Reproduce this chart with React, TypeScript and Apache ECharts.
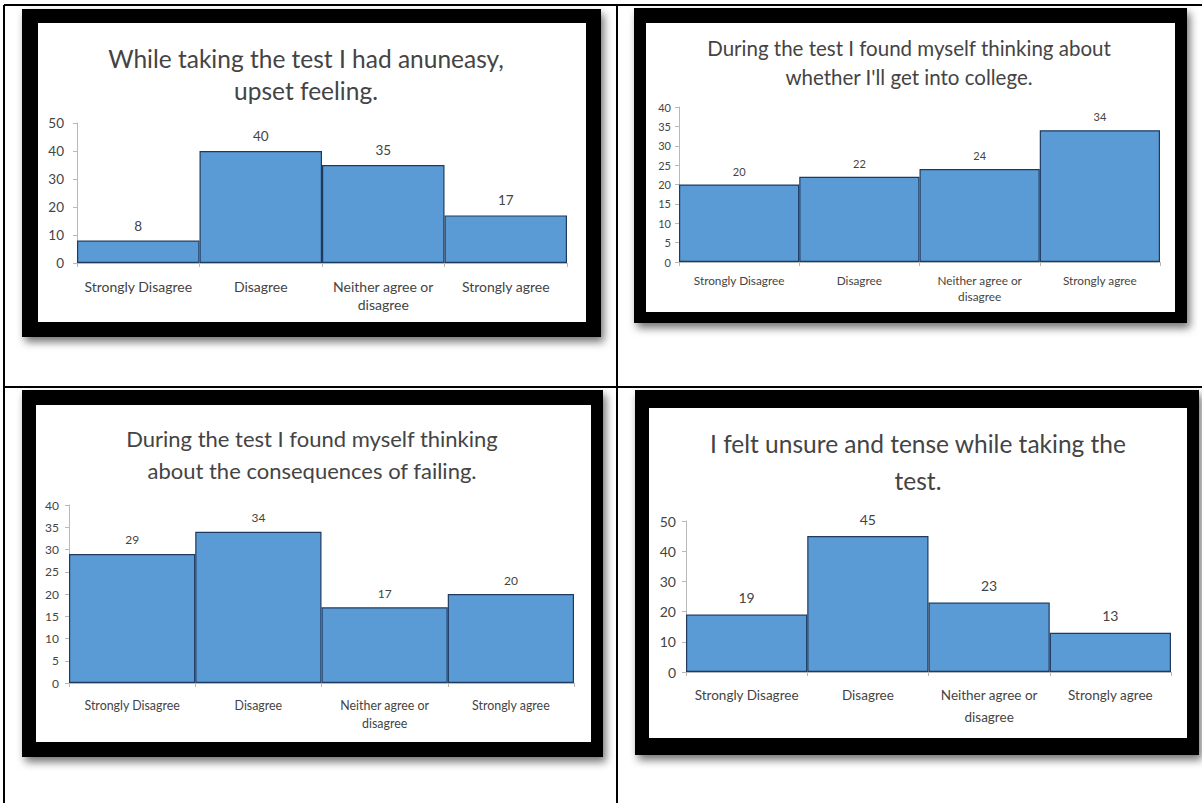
import React, { useEffect, useRef } from "react";
import * as echarts from "echarts";

const categories = ["Strongly Disagree", "Disagree", "Neither agree or\ndisagree", "Strongly agree"];
const uneasyValues = [8, 40, 35, 17];
const collegeValues = [20, 22, 24, 34];
const failingValues = [29, 34, 17, 20];
const tenseValues = [19, 45, 23, 13];
const titleTexts = [
  "While taking the test I had anuneasy,\nupset feeling.",
  "During the test I found myself thinking about\nwhether I'll get into college.",
  "During the test I found myself thinking\nabout the consequences of failing.",
  "I felt unsure and tense while taking the\ntest.",
];
const yMax = [50, 40, 40, 50];
const yStep = [10, 5, 5, 10];
const seriesValues = [uneasyValues, collegeValues, failingValues, tenseValues];

// layout of each panel (pixels)
const panels = [
  { frame: [22, 9, 601, 337], inner: [38, 23, 586, 322], grid: [77, 123, 490, 140], title: [306, 42, 24.5, 32], yFont: 13.5, yMargin: 13, xFont: 14, xLine: 18, xMargin: 14, dFont: 13.5, dDist: 8 },
  { frame: [634, 8, 1187, 323], inner: [646, 23, 1175, 312], grid: [679, 107, 481, 155], title: [909, 33.5, 20.5, 29], yFont: 11, yMargin: 8, xFont: 11.8, xLine: 16, xMargin: 10, dFont: 11, dDist: 8 },
  { frame: [22, 390, 603, 757], inner: [36, 405, 591, 742], grid: [69, 505, 505, 178], title: [312, 422, 22, 32], yFont: 12, yMargin: 10, xFont: 12.4, xLine: 18, xMargin: 13, dFont: 12, dDist: 8 },
  { frame: [635, 390, 1199, 755], inner: [649, 408, 1187, 738], grid: [686, 521, 485, 151], title: [918, 424.5, 24.5, 37], yFont: 14, yMargin: 10, xFont: 13.5, xLine: 22, xMargin: 12, dFont: 14, dDist: 10 },
];

const FONT = "Lato, 'Open Sans', sans-serif";
const TEXT = "#444444";
const AXIS = "#b8b8b8";

export default function App() {
  const ref = useRef<HTMLDivElement>(null);
  useEffect(() => {
    if (!ref.current) return;
    const chart = echarts.init(ref.current, null, { renderer: "svg" });
    const graphics: any[] = [];
    panels.forEach((p) => {
      const [x1, y1, x2, y2] = p.frame;
      graphics.push({
        type: "rect",
        z: -2,
        shape: { x: x1, y: y1, width: x2 - x1, height: y2 - y1 },
        style: { fill: "#000", shadowBlur: 8, shadowOffsetX: 3, shadowOffsetY: 5, shadowColor: "rgba(0,0,0,0.55)" },
      });
      const [ix1, iy1, ix2, iy2] = p.inner;
      graphics.push({
        type: "rect",
        z: -1,
        shape: { x: ix1, y: iy1, width: ix2 - ix1, height: iy2 - iy1 },
        style: { fill: "#fff" },
      });
    });
    const lineStyle = { stroke: "#000", lineWidth: 2 };
    graphics.push(
      { type: "line", z: 5, shape: { x1: 4, y1: 5, x2: 1202, y2: 5 }, style: lineStyle },
      { type: "line", z: 5, shape: { x1: 4, y1: 5, x2: 4, y2: 803 }, style: lineStyle },
      { type: "line", z: 5, shape: { x1: 617, y1: 5, x2: 617, y2: 803 }, style: lineStyle },
      { type: "line", z: 5, shape: { x1: 4, y1: 387, x2: 1202, y2: 387 }, style: lineStyle }
    );

    const option: any = {
      animation: false,
      backgroundColor: "#fff",
      graphic: graphics,
      title: panels.map((p, i) => ({
        text: titleTexts[i],
        left: p.title[0],
        top: p.title[1],
        textAlign: "center",
        padding: 0,
        textStyle: { fontFamily: FONT, fontSize: p.title[2], lineHeight: p.title[3], fontWeight: "normal", color: TEXT },
      })),
      grid: panels.map((p) => ({ left: p.grid[0], top: p.grid[1], width: p.grid[2], height: p.grid[3] })),
      xAxis: panels.map((p, i) => ({
        type: "category",
        gridIndex: i,
        data: categories,
        boundaryGap: true,
        axisLine: { show: true, lineStyle: { color: AXIS, width: 1 } },
        axisTick: { show: true, alignWithLabel: false, interval: 0, length: 4, lineStyle: { color: AXIS } },
        axisLabel: { interval: 0, fontFamily: FONT, fontSize: p.xFont, lineHeight: p.xLine, color: TEXT, margin: p.xMargin },
      })),
      yAxis: panels.map((p, i) => ({
        type: "value",
        gridIndex: i,
        min: 0,
        max: yMax[i],
        interval: yStep[i],
        splitLine: { show: false },
        axisLine: { show: true, lineStyle: { color: AXIS, width: 1 } },
        axisTick: { show: true, length: 4, lineStyle: { color: AXIS } },
        axisLabel: { fontFamily: FONT, fontSize: p.yFont, color: TEXT, margin: p.yMargin },
      })),
      series: panels.map((p, i) => ({
        type: "bar",
        xAxisIndex: i,
        yAxisIndex: i,
        data: seriesValues[i],
        barCategoryGap: "0%",
        itemStyle: { color: "#5B9BD5", borderColor: "#1F3A5F", borderWidth: 1.2 },
        label: { show: true, position: "top", distance: p.dDist, fontFamily: FONT, fontSize: p.dFont, color: TEXT },
      })),
    };
    chart.setOption(option);
    return () => chart.dispose();
  }, []);
  return <div ref={ref} style={{ position: "absolute", left: 0, top: 0, width: 1202, height: 803 }} />;
}
